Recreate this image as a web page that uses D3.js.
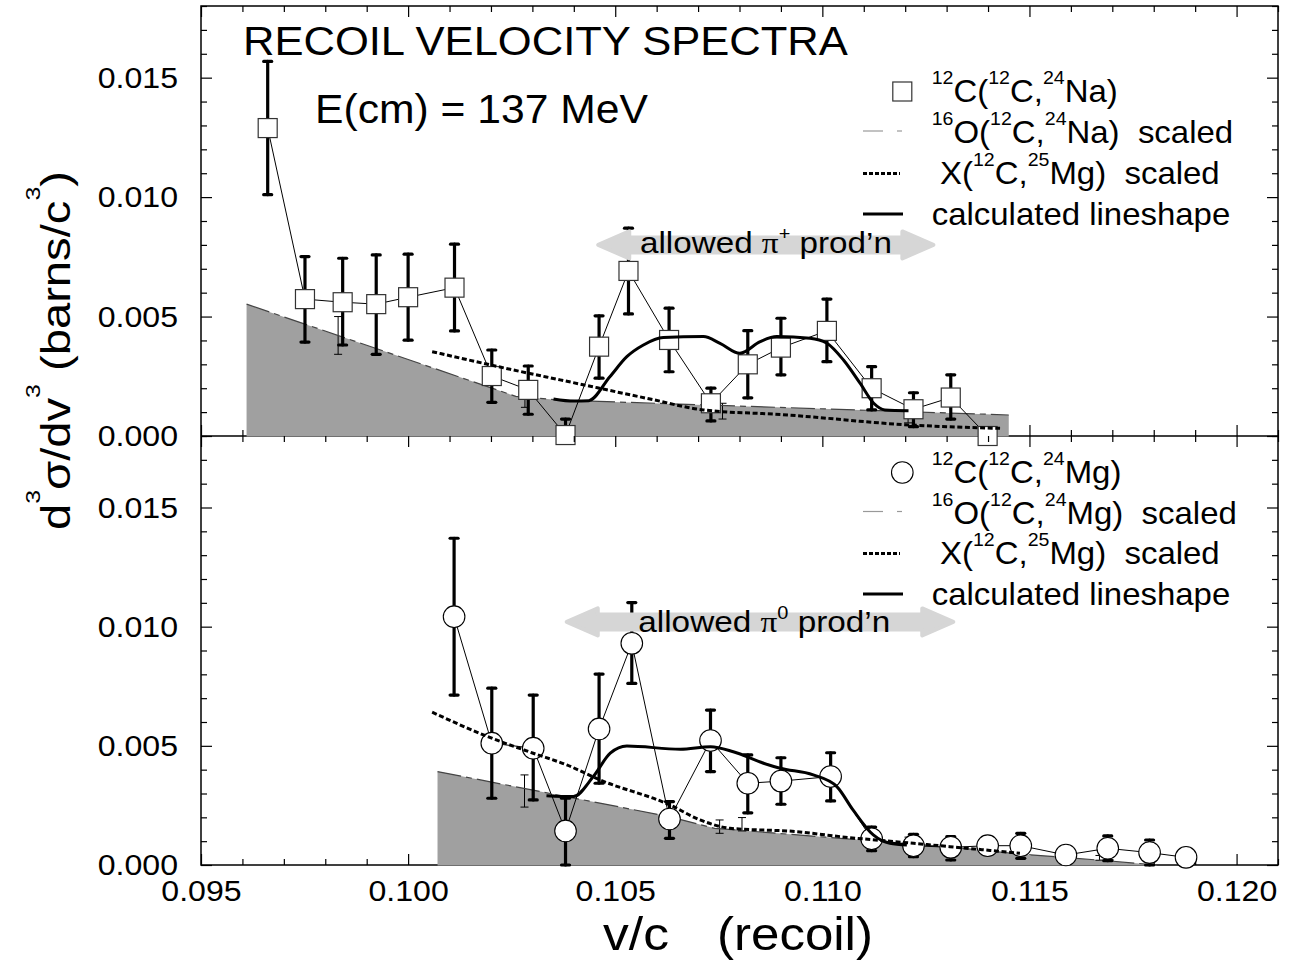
<!DOCTYPE html>
<html lang="en">
<head>
<meta charset="UTF-8">
<title>Recoil velocity spectra</title>
<script src="https://cdn.jsdelivr.net/npm/d3@7"></script>
<style>
  html, body { margin: 0; background: #fff; }
  svg { display: block; font-family: "Liberation Sans", Arial, Helvetica, sans-serif; }
  text { white-space: pre; fill: #000; }
</style>
</head>
<body>
<svg id="chart" width="1292" height="962"></svg>
<script>
// [v/c, d3sigma/dv3, error low, error high]  (barns/c^3)
const naPoints = [
  [0.09661, 0.01289, 0.01010, 0.01568],
  [0.09751, 0.00573, 0.00393, 0.00751],
  [0.09842, 0.00560, 0.00381, 0.00744],
  [0.09923, 0.00552, 0.00342, 0.00758],
  [0.10000, 0.00581, 0.00401, 0.00761],
  [0.10112, 0.00621, 0.00440, 0.00803],
  [0.10202, 0.00251, 0.00141, 0.00360],
  [0.10290, 0.00193, 0.00091, 0.00293],
  [0.10380, 0.00004, 0.00000, 0.00071],
  [0.10461, 0.00374, 0.00242, 0.00503],
  [0.10532, 0.00691, 0.00511, 0.00870],
  [0.10630, 0.00402, 0.00269, 0.00535],
  [0.10731, 0.00137, 0.00063, 0.00200],
  [0.10820, 0.00300, 0.00160, 0.00441],
  [0.10900, 0.00370, 0.00256, 0.00493],
  [0.11011, 0.00440, 0.00311, 0.00573],
  [0.11119, 0.00200, 0.00109, 0.00290],
  [0.11220, 0.00112, 0.00039, 0.00181],
  [0.11310, 0.00161, 0.00071, 0.00256],
  [0.11399, 0.00000, null, null]
];
const naO16Err = [
  [0.09831, 0.00421, 0.00342, 0.00500],
  [0.10282, 0.00160, 0.00120, 0.00200],
  [0.10759, 0.00105, 0.00071, 0.00137],
  [0.11207, 0.00088, 0.00055, 0.00121]
];
const naO16 = [[0.0961, 0.00552], [0.1026, 0.00166], [0.1037, 0.00150], [0.1145, 0.00088]];
const naX25 = [
  [0.10058, 0.00353], [0.1029, 0.00263], [0.10367, 0.00235], [0.10584, 0.00155],
  [0.10713, 0.00109], [0.1090, 0.00090], [0.11212, 0.00046], [0.11429, 0.00032]
];
const naCalc = [
  [0.10351, 0.00155], [0.10400, 0.00146], [0.10436, 0.00148], [0.10487, 0.00248],
  [0.10528, 0.00332], [0.10568, 0.00381], [0.10616, 0.00412], [0.10713, 0.00416],
  [0.10753, 0.00388], [0.10801, 0.00346], [0.10850, 0.00395], [0.10890, 0.00416],
  [0.10970, 0.00409], [0.11011, 0.00388], [0.11051, 0.00318], [0.11091, 0.00221],
  [0.11124, 0.00137], [0.11151, 0.00109], [0.11208, 0.00106]
];

const mgPoints = [
  [0.10111, 0.01042, 0.00713, 0.01371],
  [0.10202, 0.00511, 0.00280, 0.00742],
  [0.10302, 0.00490, 0.00273, 0.00713],
  [0.10380, 0.00143, 0.00000, 0.00280],
  [0.10461, 0.00571, 0.00343, 0.00801],
  [0.10540, 0.00930, 0.00762, 0.01101],
  [0.10631, 0.00193, 0.00112, 0.00266],
  [0.10730, 0.00522, 0.00392, 0.00650],
  [0.10820, 0.00343, 0.00219, 0.00462],
  [0.10900, 0.00352, 0.00255, 0.00450],
  [0.11020, 0.00371, 0.00269, 0.00471],
  [0.11119, 0.00110, 0.00060, 0.00159],
  [0.11220, 0.00081, 0.00035, 0.00129],
  [0.11310, 0.00074, 0.00021, 0.00119],
  [0.11399, 0.00081, null, null],
  [0.11479, 0.00081, 0.00028, 0.00133],
  [0.11588, 0.00042, null, null],
  [0.11689, 0.00070, 0.00018, 0.00122],
  [0.11790, 0.00052, 0.00000, 0.00105],
  [0.11878, 0.00032, null, null]
];
const mgO16Err = [
  [0.10281, 0.00310, 0.00243, 0.00378],
  [0.10752, 0.00161, 0.00133, 0.00189],
  [0.10806, 0.00171, 0.00143, 0.00199],
  [0.11208, 0.00090, 0.00063, 0.00117],
  [0.11669, 0.00030, 0.00020, 0.00040]
];
const mgO16 = [
  [0.10071, 0.00392], [0.1063, 0.00203], [0.1074, 0.00154], [0.11043, 0.00112],
  [0.11300, 0.00077], [0.11477, 0.00046], [0.11687, 0.00018], [0.11807, 0.00000]
];
const mgX25 = [
  [0.10058, 0.00641], [0.10202, 0.00532], [0.10302, 0.00469], [0.10383, 0.00420],
  [0.10463, 0.00357], [0.10632, 0.00252], [0.10705, 0.00189], [0.10777, 0.00154],
  [0.10938, 0.00140], [0.11043, 0.00119], [0.1122, 0.00091], [0.11308, 0.00077],
  [0.11477, 0.00049]
];
const mgCalc = [
  [0.10334, 0.00291], [0.10399, 0.00287], [0.10447, 0.00371], [0.10488, 0.00469],
  [0.10528, 0.00499], [0.10657, 0.00486], [0.10730, 0.00496], [0.10785, 0.00475],
  [0.10858, 0.00427], [0.10898, 0.00406], [0.10978, 0.00378], [0.11035, 0.00329],
  [0.11074, 0.00231], [0.11123, 0.00126], [0.11163, 0.00091], [0.11204, 0.00084]
];

// allowed pion production ranges: [from v/c, to v/c, drawn at height]
const piPlusRange = [0.10459, 0.11268, 0.0080];
const piZeroRange = [0.10383, 0.11316, 0.0102];

const xMajor = [0.095, 0.100, 0.105, 0.110, 0.115, 0.120];
const xMinor = d3.range(95, 122).map(i => i / 1000).filter(v => !xMajor.some(m => Math.abs(m - v) < 1e-7));
const yMajor = [0, 0.005, 0.010, 0.015];
const yMinor = d3.range(0, 19).map(i => i / 1000).filter(v => !yMajor.some(m => Math.abs(m - v) < 1e-7));

const naLegend = [["^12", "C(", "^12", "C,", "^24", "Na)"], ["^16", "O(", "^12", "C,", "^24", "Na)  scaled"],
                  ["X(", "^12", "C,", "^25", "Mg)  scaled"], ["calculated lineshape"]];
const mgLegend = [["^12", "C(", "^12", "C,", "^24", "Mg)"], ["^16", "O(", "^12", "C,", "^24", "Mg)  scaled"],
                  ["X(", "^12", "C,", "^25", "Mg)  scaled"], ["calculated lineshape"]];

const svg = d3.select("#chart");
const x = d3.scaleLinear().domain([0.095, 0.121]).range([201, 1278]);
const yTop = d3.scaleLinear().domain([0, 0.018]).range([436, 6]);
const yBot = d3.scaleLinear().domain([0, 0.018]).range([865, 436]);

// text with superscripts ("^") and serif glyphs ("~")
function rich(sel, parts, size, supSize, raise) {
    let up = false;
    parts.forEach(p => {
        const sup = p.startsWith("^"), serif = p.startsWith("~");
        const t = sel.append("tspan").text(sup || serif ? p.slice(1) : p)
            .attr("font-size", sup ? supSize : size);
        if (serif) t.attr("font-family", "'Liberation Serif', serif");
        if (sup && !up) { t.attr("dy", -raise); up = true; }
        else if (!sup && up) { t.attr("dy", raise); up = false; }
    });
}

function label(px, py, parts, opt) {
    const g = svg.append("g").attr("transform", `translate(${px},${py})${opt.rotate ? " rotate(-90)" : ""}`);
    const t = g.append("text").attr("text-anchor", opt.anchor || "start");
    rich(t, typeof parts === "string" ? [parts] : parts, opt.size, opt.sup || 18, opt.raise || 16);
    let k = opt.k || 1;
    if (opt.width) k = opt.width / t.node().getComputedTextLength();
    t.attr("transform", `scale(${k},1)`);
    return t;
}

function axes(y, withLabels) {
    const [bottom, top] = y.range();
    const add = (axis, tx, ty) => svg.append("g").attr("class", "ax")
        .attr("transform", `translate(${tx},${ty})`).call(axis);
    add(d3.axisLeft(y).tickValues(yMinor).tickSize(-6).tickFormat(""), 201, 0);
    add(d3.axisLeft(y).tickValues(yMajor).tickSize(-11).tickPadding(21.5).tickFormat(d3.format(".3f")), 201, 0);
    add(d3.axisRight(y).tickValues(yMinor).tickSize(-6).tickFormat(""), 1278, 0);
    add(d3.axisRight(y).tickValues(yMajor).tickSize(-11).tickFormat(""), 1278, 0);
    add(d3.axisTop(x).tickValues(xMinor).tickSize(-6).tickFormat(""), 0, top);
    add(d3.axisTop(x).tickValues(xMajor).tickSize(-11).tickFormat(""), 0, top);
    add(d3.axisBottom(x).tickValues(xMinor).tickSize(-6).tickFormat(""), 0, bottom);
    add(d3.axisBottom(x).tickValues(xMajor).tickSize(-11).tickPadding(15)
        .tickFormat(withLabels ? d3.format(".3f") : ""), 0, bottom);
}

function errorBars(g, pts, y, thick) {
    const cap = 4;
    pts.filter(d => d[2] !== null).forEach(d => {
        const cx = x(d[0]);
        const s = g.append("g").attr("stroke", "#000")
            .attr("stroke-width", thick ? 3.2 : 1).attr("stroke-linecap", thick ? "round" : "butt");
        s.append("line").attr("x1", cx).attr("x2", cx).attr("y1", y(d[2])).attr("y2", y(d[3]));
        [d[2], d[3]].forEach(v => s.append("line")
            .attr("x1", cx - cap).attr("x2", cx + cap).attr("y1", y(v)).attr("y2", y(v)));
    });
}

function arrow(range, y) {
    const x1 = x(range[0]), x2 = x(range[1]), yc = y(range[2]);
    const h = 31, H = 13.5, s = 7.5;
    const pts = [[x1, yc], [x1 + h, yc - H], [x1 + h, yc - s], [x2 - h, yc - s], [x2 - h, yc - H], [x2, yc],
                 [x2 - h, yc + H], [x2 - h, yc + s], [x1 + h, yc + s], [x1 + h, yc + H]];
    svg.append("path").attr("d", d3.line()(pts) + "Z")
        .attr("fill", "#d6d6d6").attr("stroke", "#d6d6d6").attr("stroke-width", 4).attr("stroke-linejoin", "round");
}

function marker(g, cx, cy, shape) {
    if (shape === "square") {
        g.append("rect").attr("x", cx - 9.5).attr("y", cy - 9.5).attr("width", 19).attr("height", 19)
            .attr("fill", "#fff").attr("stroke", "#333").attr("stroke-width", 1.2);
    } else {
        g.append("circle").attr("cx", cx).attr("cy", cy).attr("r", 10.8)
            .attr("fill", "#fff").attr("stroke", "#000").attr("stroke-width", 1.1);
    }
}

function legend(rows, shape, ys) {
    const g = svg.append("g");
    marker(g, 902.3, ys[0] - 10.5, shape);
    g.append("line").attr("x1", 863).attr("x2", 883).attr("y1", ys[1] - 12).attr("y2", ys[1] - 12)
        .attr("stroke", "#999").attr("stroke-width", 1.2);
    g.append("line").attr("x1", 897).attr("x2", 902).attr("y1", ys[1] - 12).attr("y2", ys[1] - 12)
        .attr("stroke", "#999").attr("stroke-width", 1.2);
    g.append("line").attr("x1", 863).attr("x2", 900).attr("y1", ys[2] - 10.5).attr("y2", ys[2] - 10.5)
        .attr("stroke", "#000").attr("stroke-width", 3).attr("stroke-dasharray", "4,2");
    g.append("line").attr("x1", 863).attr("x2", 903).attr("y1", ys[3] - 10.5).attr("y2", ys[3] - 10.5)
        .attr("stroke", "#000").attr("stroke-width", 3);
    rows.forEach((r, i) => label(i === 2 ? 940 : 931.7, ys[i], r, { size: 32, sup: 19, raise: 18, k: 1.03 }));
}

function panel(cfg) {
    const y = cfg.y;
    axes(y, cfg.labels);
    svg.append("path").datum(cfg.o16)
        .attr("d", d3.area().x(d => x(d[0])).y0(y(0) + 0.6).y1(d => y(d[1])))
        .attr("fill", "#a0a0a0");
    errorBars(svg.append("g"), cfg.o16Err, y, false);
    svg.append("path").datum(cfg.o16)
        .attr("d", d3.line().x(d => x(d[0])).y(d => y(d[1])))
        .attr("fill", "none").attr("stroke", "#444").attr("stroke-width", 1.2).attr("stroke-dasharray", "24,5,6,5");
    errorBars(svg.append("g"), cfg.points, y, true);
    svg.append("path").datum(cfg.points)
        .attr("d", d3.line().x(d => x(d[0])).y(d => y(d[1])))
        .attr("fill", "none").attr("stroke", "#000").attr("stroke-width", 1);
    arrow(cfg.range, y);
    label(cfg.arrowText[0], cfg.arrowText[1], ["allowed ", "~π", cfg.sup, " prod’n"],
          { size: 30, sup: 18, raise: 13, width: 252 });
    const mg = svg.append("g");
    cfg.points.forEach(d => marker(mg, x(d[0]), y(d[1]), cfg.shape));
    svg.append("path").datum(cfg.x25)
        .attr("d", d3.line().x(d => x(d[0])).y(d => y(d[1])).curve(d3.curveMonotoneX))
        .attr("fill", "none").attr("stroke", "#000").attr("stroke-width", 3).attr("stroke-dasharray", "5,2.6");
    svg.append("path").datum(cfg.calc)
        .attr("d", d3.line().x(d => x(d[0])).y(d => y(d[1])).curve(d3.curveMonotoneX))
        .attr("fill", "none").attr("stroke", "#000").attr("stroke-width", 3).attr("stroke-linejoin", "round");
}

// frame
svg.append("rect").attr("x", 201).attr("y", 6).attr("width", 1077).attr("height", 859)
    .attr("fill", "none").attr("stroke", "#000").attr("stroke-width", 1.5);
svg.append("line").attr("x1", 201).attr("x2", 1278).attr("y1", 436).attr("y2", 436)
    .attr("stroke", "#000").attr("stroke-width", 1.5);

panel({ y: yTop, labels: false, points: naPoints, o16: naO16, o16Err: naO16Err, x25: naX25, calc: naCalc,
        shape: "square", range: piPlusRange, arrowText: [640, 253], sup: "^+" });
panel({ y: yBot, labels: true, points: mgPoints, o16: mgO16, o16Err: mgO16Err, x25: mgX25, calc: mgCalc,
        shape: "circle", range: piZeroRange, arrowText: [638.3, 631.5], sup: "^0" });

svg.selectAll(".ax .domain").remove();
svg.selectAll(".ax").attr("font-family", null).attr("font-size", null);
svg.selectAll(".ax line").attr("stroke", "#000").attr("stroke-width", 1.2);
svg.selectAll(".ax text").attr("font-size", 30).attr("fill", "#000").attr("transform", "scale(1.07,1)");

legend(naLegend, "square", [102, 143, 184, 224.5]);
legend(mgLegend, "circle", [483, 523.5, 564, 604.5]);

// titles
label(243, 55, "RECOIL VELOCITY SPECTRA", { size: 40, width: 605 });
label(315, 122.7, "E(cm) = 137 MeV", { size: 40, width: 333 });
label(603, 950, "v/c", { size: 46, width: 66 });
label(717, 950, "(recoil)", { size: 46, width: 156 });
label(70, 530, ["d", "^3", "σ/dv", "^3", " (barns/c", "^3", ")"],
      { size: 40, sup: 21, raise: 30, width: 359, rotate: true });
</script>
</body>
</html>
